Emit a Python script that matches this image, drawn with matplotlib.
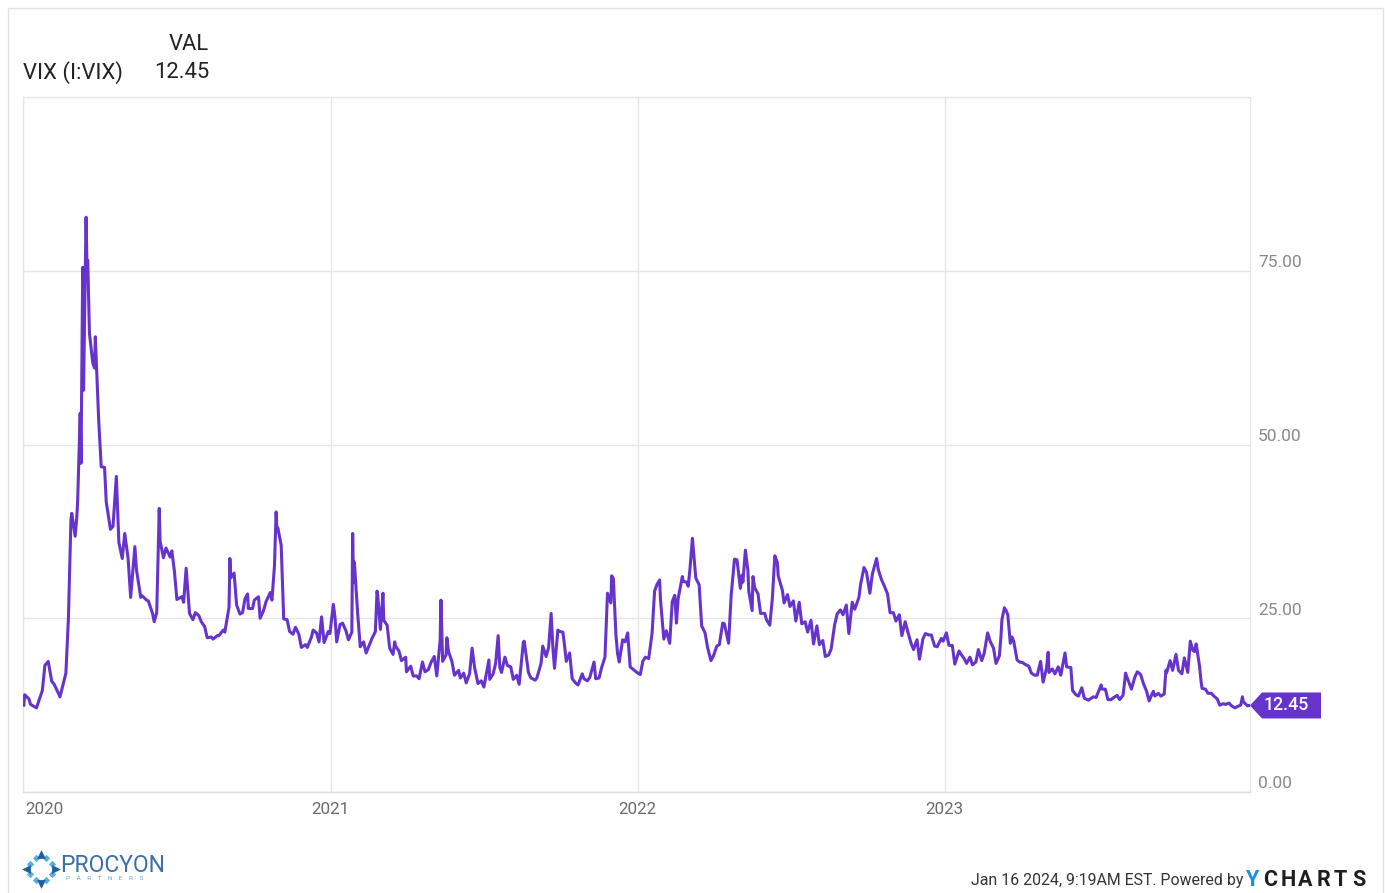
import matplotlib
matplotlib.use('Agg')
import matplotlib.pyplot as plt
import matplotlib.dates as mdates
from matplotlib.patches import Polygon, Rectangle
import numpy as np
import pandas as pd

plt.rcParams['font.family'] = ['Roboto', 'DejaVu Sans']

# ---------------- data ----------------
days_2020 = ["01-02","01-03","01-08","01-10","01-17","01-24","01-27","01-31","02-04","02-07","02-14","02-21",
             "02-24","02-27","02-28","03-03","03-05","03-06","03-09","03-10","03-12","03-13","03-16","03-17",
             "03-18","03-20","03-24","03-26","03-27","03-31","04-03","04-07","04-09","04-14","04-17","04-21",
             "04-24","04-28","05-01","05-05","05-08","05-13","05-15","05-20","05-22","05-27","05-29","06-03",
             "06-05","06-08","06-11","06-12","06-16","06-19","06-24","06-26","06-29","07-02","07-08","07-10",
             "07-13","07-17","07-21","07-24","07-28","07-31","08-04","08-07","08-12","08-14","08-19","08-21",
             "08-26","08-28","09-02","09-03","09-04","09-08","09-11","09-15","09-18","09-21","09-24","09-25",
             "09-30","10-02","10-07","10-09","10-13","10-16","10-21","10-23","10-26","10-28","10-29","10-30",
             "11-03","11-06","11-10","11-13","11-17","11-20","11-24","11-27","12-02","12-04","12-09","12-11",
             "12-15","12-18","12-21","12-24","12-29","12-31"]
vix_2020 = [12.5,14.0,13.4,12.6,12.1,14.6,18.2,18.8,16.0,15.5,13.7,17.1,
            25.0,39.2,40.1,36.8,39.6,41.9,54.5,47.3,75.5,57.8,82.7,75.9,
            76.5,66.0,61.7,61.0,65.5,53.5,46.8,46.7,41.7,37.8,38.2,45.4,
            35.9,33.6,37.2,33.6,28.0,35.3,31.9,28.0,28.2,27.6,27.5,25.7,
            24.5,25.8,40.8,36.1,33.7,35.1,33.8,34.7,31.8,27.7,28.1,27.3,
            32.2,25.7,24.8,25.8,25.4,24.5,23.8,22.2,22.3,22.0,22.5,22.5,
            23.3,23.0,26.6,33.6,30.8,31.5,26.9,25.6,25.8,27.8,28.5,26.4,
            26.4,27.6,28.1,25.0,26.1,27.4,28.7,27.6,32.5,40.3,37.6,38.0,
            35.5,24.9,24.8,23.1,22.7,23.7,22.7,20.8,21.2,20.8,22.3,23.3,
            22.9,21.6,25.2,21.5,23.1,22.8]

days_2021 = ["01-04","01-06","01-08","01-12","01-15","01-19","01-22","01-26","01-27","01-28","01-29","02-02",
             "02-05","02-09","02-12","02-17","02-19","02-23","02-25","02-26","03-01","03-04","03-05","03-09",
             "03-12","03-16","03-18","03-19","03-23","03-26","03-31","04-01","04-06","04-09","04-13","04-16",
             "04-20","04-23","04-27","04-30","05-04","05-07","05-11","05-12","05-13","05-14","05-18","05-19",
             "05-21","05-25","05-28","06-02","06-04","06-08","06-11","06-15","06-18","06-21","06-25","06-29",
             "07-02","07-08","07-09","07-13","07-16","07-19","07-21","07-23","07-27","07-30","08-03","08-06",
             "08-10","08-13","08-18","08-19","08-24","08-27","09-01","09-03","09-08","09-10","09-14","09-17",
             "09-20","09-22","09-24","09-28","09-30","10-04","10-06","10-08","10-12","10-15","10-19","10-22",
             "10-27","10-29","11-02","11-05","11-10","11-12","11-16","11-19","11-23","11-26","11-30","12-01",
             "12-03","12-06","12-08","12-10","12-14","12-17","12-20","12-23","12-28","12-31"]
vix_2021 = [27.0,25.1,21.6,24.1,24.3,23.2,21.9,23.0,37.2,30.2,33.1,25.6,
            20.9,21.6,20.0,21.5,22.1,23.1,28.9,28.0,23.4,28.6,24.7,24.0,
            20.7,19.8,21.6,21.0,20.3,18.9,19.4,17.3,18.1,16.7,16.7,16.3,
            18.7,17.3,17.6,18.6,19.5,16.7,21.8,27.6,23.1,18.8,19.7,22.2,
            20.2,18.8,16.8,17.5,16.4,17.1,15.7,17.0,20.7,17.9,15.6,16.0,
            15.1,19.0,16.2,17.0,18.5,22.5,17.9,17.2,19.4,18.2,18.0,16.2,
            16.8,15.5,21.6,21.7,17.2,16.4,16.1,16.4,18.5,21.0,19.5,20.8,
            25.7,20.9,17.8,23.3,23.1,23.0,21.0,18.8,20.0,16.3,15.7,15.4,
            17.0,16.3,16.0,16.5,18.7,16.3,16.4,17.9,19.4,28.6,27.2,31.1,
            30.7,22.7,19.9,18.7,21.9,21.6,22.9,18.0,17.5,17.2]

days_2022 = ["01-04","01-07","01-10","01-14","01-18","01-21","01-24","01-27","01-28","02-01","02-04","02-08",
             "02-11","02-14","02-16","02-18","02-23","02-24","02-28","03-02","03-04","03-07","03-08","03-11",
             "03-15","03-18","03-22","03-25","03-29","04-01","04-05","04-08","04-12","04-14","04-19","04-22",
             "04-26","04-29","05-03","05-05","05-06","05-09","05-12","05-13","05-17","05-18","05-20","05-24",
             "05-27","06-01","06-03","06-07","06-10","06-13","06-16","06-17","06-22","06-24","06-28","07-01",
             "07-05","07-08","07-12","07-15","07-19","07-22","07-26","07-29","08-02","08-05","08-09","08-12",
             "08-16","08-19","08-23","08-26","08-30","09-02","09-06","09-09","09-13","09-16","09-21","09-23",
             "09-27","09-30","10-04","10-07","10-12","10-14","10-18","10-21","10-25","10-28","11-01","11-04",
             "11-08","11-10","11-11","11-15","11-18","11-22","11-25","11-29","12-02","12-06","12-09","12-13",
             "12-16","12-20","12-23","12-28","12-30"]
vix_2022 = [16.9,18.8,19.4,19.2,22.8,28.9,29.9,30.5,27.7,22.0,23.2,21.4,
            27.4,28.3,24.3,27.8,31.0,30.3,30.2,29.6,32.0,36.5,35.1,30.8,
            29.8,23.9,22.9,20.8,18.9,19.6,21.0,21.2,24.3,24.2,21.4,28.2,
            33.5,33.4,29.3,31.2,30.2,34.8,31.8,28.9,26.1,31.0,29.4,28.5,
            25.7,25.7,24.8,24.0,27.8,34.0,33.0,31.1,29.0,27.2,28.4,26.7,
            27.5,24.6,27.3,24.2,24.5,23.0,24.7,21.3,23.9,21.2,21.8,19.5,
            19.7,20.6,24.0,25.6,26.2,25.5,26.9,22.8,27.3,26.3,28.0,29.9,
            32.3,31.6,28.6,31.4,33.6,32.0,30.5,29.7,28.5,25.8,25.8,24.6,
            25.5,23.5,22.5,24.5,23.1,21.4,20.5,21.9,19.1,22.0,22.8,22.6,
            22.6,21.0,20.9,22.1,21.7]

days_2023 = ["01-03","01-06","01-10","01-13","01-18","01-20","01-24","01-27","01-31","02-03","02-07","02-10",
             "02-14","02-17","02-21","02-24","02-28","03-03","03-07","03-09","03-10","03-13","03-15","03-17",
             "03-20","03-22","03-24","03-28","03-31","04-04","04-06","04-11","04-14","04-18","04-21","04-25",
             "04-28","05-02","05-04","05-05","05-09","05-12","05-16","05-19","05-24","05-26","05-31","06-02",
             "06-06","06-09","06-13","06-16","06-21","06-23","06-27","06-30","07-06","07-07","07-11","07-14",
             "07-18","07-21","07-25","07-28","08-01","08-03","08-04","08-08","08-11","08-15","08-18","08-22",
             "08-25","08-29","09-01","09-06","09-08","09-12","09-15","09-19","09-21","09-22","09-26","09-29",
             "10-03","10-06","10-10","10-13","10-17","10-20","10-23","10-25","10-27","10-31","11-02","11-03",
             "11-07","11-10","11-14","11-17","11-21","11-24","11-28","12-01","12-05","12-08","12-12","12-15",
             "12-19","12-21","12-22","12-27","12-29"]
vix_2023 = [22.9,21.1,21.1,18.4,20.3,19.9,19.2,18.5,19.4,18.3,18.7,20.5,
            18.9,20.0,22.9,21.7,20.7,18.5,19.6,22.6,24.8,26.5,26.1,25.5,
            21.4,22.3,21.7,19.0,18.7,18.6,18.4,18.1,17.1,16.8,16.8,18.8,
            15.8,17.8,20.1,17.2,17.7,17.0,18.0,16.8,20.0,18.0,17.9,14.6,
            14.0,13.8,15.0,13.5,13.2,13.4,13.7,13.6,15.4,14.8,14.8,13.3,
            13.3,13.6,13.9,13.3,13.9,15.9,17.1,15.8,14.8,16.5,17.3,16.9,
            15.7,14.5,13.1,14.5,13.8,14.2,13.8,14.1,17.5,17.2,18.9,17.5,
            19.8,17.5,17.0,19.3,17.2,21.7,20.4,20.2,21.3,18.1,15.7,14.9,
            14.8,14.2,14.2,13.8,13.4,12.5,12.7,12.6,12.8,12.4,12.1,12.3,
            12.5,13.7,13.0,12.4,12.45]

dates = pd.to_datetime(["2020-" + d for d in days_2020] + ["2021-" + d for d in days_2021] +
                       ["2022-" + d for d in days_2022] + ["2023-" + d for d in days_2023])
vix = np.array(vix_2020 + vix_2021 + vix_2022 + vix_2023)

series_name = "VIX (I:VIX)"
column_name = "VAL"
last_value = 12.45
y_ticks = [0, 25, 50, 75]
year_ticks = ["2020", "2021", "2022", "2023"]
footer_text = "Jan 16 2024, 9:19AM EST. Powered by"

# ---------------- figure ----------------
W, H = 1385, 893
fig = plt.figure(figsize=(W / 100, H / 100), dpi=100)
fig.patch.set_facecolor('white')

def fx(x):
    return x / W

def fy(y):
    return 1 - y / H

# outer frame
fig.patches.append(Rectangle((fx(8), fy(905)), fx(1383) - fx(8), fy(8) - fy(905),
                             transform=fig.transFigure, fill=False, edgecolor='#e3e3e3', lw=1))

ax = fig.add_axes([fx(23), fy(792), fx(1250) - fx(23), fy(97) - fy(792)])
purple = '#6633cc'
grid_c = '#e6e6e6'

ax.plot(dates, vix, color=purple, lw=2.2, solid_joinstyle='round', zorder=3)

ax.set_xlim(pd.Timestamp('2020-01-01'), pd.Timestamp('2023-12-30'))
ax.set_ylim(0, 100)

for s in ax.spines.values():
    s.set_color(grid_c)
    s.set_linewidth(1)
ax.spines['bottom'].set_color('#dcdcdc')

ax.set_yticks(y_ticks)
ax.set_xticks([pd.Timestamp(y + '-01-01') for y in year_ticks])
ax.tick_params(length=0, labelleft=False, labelbottom=False)
ax.grid(True, color=grid_c, lw=1)
ax.set_axisbelow(True)

# y tick labels (right side, sitting above gridlines)
for v in y_ticks:
    ax.annotate(f"{v:.2f}", xy=(1, v), xycoords=('axes fraction', 'data'),
                xytext=(8, 8), textcoords='offset pixels', ha='left', va='center',
                fontsize=12.5, color='#8a8a8a')

# x tick labels
for i, y in enumerate(year_ticks):
    t = pd.Timestamp(y + '-01-01')
    ax.annotate(y, xy=(t, 0), xycoords=('data', 'axes fraction'),
                xytext=(2 if i == 0 else 0, -17), textcoords='offset pixels',
                ha='left' if i == 0 else 'center', va='center', fontsize=12.2, color='#6a6a6a')

# last-value tag
fig.canvas.draw()
xr = mdates.date2num(pd.Timestamp('2023-12-30'))
_, yd = ax.transData.transform((xr, last_value))
xd = ax.transAxes.transform((1, 0))[0]
inv = fig.transFigure.inverted()
pts_px = [(xd, yd), (xd + 12, yd + 13), (xd + 71, yd + 13), (xd + 71, yd - 13), (xd + 12, yd - 13)]
pts = [inv.transform(p) for p in pts_px]
fig.patches.append(Polygon(pts, closed=True, transform=fig.transFigure, facecolor=purple,
                           edgecolor='none', zorder=5))
tx, ty = inv.transform((xd + 14, yd))
fig.text(tx, ty, f"{last_value:.2f}", color='white', fontsize=12.8, fontweight='medium',
         ha='left', va='center', zorder=6)

# header
fig.text(fx(209), fy(45), column_name, ha='right', va='center', fontsize=15.8, color='#222222')
fig.text(fx(23), fy(73), series_name, ha='left', va='center', fontsize=15.8, color='#222222')
fig.text(fx(209), fy(73), f"{last_value:.2f}", ha='right', va='center', fontsize=15.8, color='#222222')

# footer
fig.text(fx(1243), fy(881), footer_text, ha='right', va='center', fontsize=11.4, color='#333333')
brand = "YCHARTS"
for i, ch in enumerate(brand):
    fig.text(fx(1245 + i * 17.8), fy(880), ch, ha='left', va='center', fontsize=15.5,
             fontweight='bold', color='#1a8fe3' if i == 0 else '#1e1e1e')

# Procyon logo (approximation drawn with markers)
lax = fig.add_axes([fx(22), fy(888), fx(60) - fx(22), fy(850) - fy(888)])
lax.set_xlim(-1, 1)
lax.set_ylim(-1, 1)
lax.axis('off')
ring = np.linspace(0, 2 * np.pi, 9)[:-1] + np.pi / 8
lax.scatter(0.62 * np.cos(ring), 0.62 * np.sin(ring), marker='D', s=14, color='#5aaedc', lw=0)
for a, m in zip([0, np.pi / 2, np.pi, 3 * np.pi / 2], ['>', '^', '<', 'v']):
    lax.scatter([0.8 * np.cos(a)], [0.8 * np.sin(a)], marker=m, s=40, color='#1f5f9e', lw=0)
fig.text(fx(60), fy(866), "PROCYON", ha='left', va='center', fontsize=16.5, color='#3b6fa6',
         fontweight='normal')
fig.text(fx(66), fy(879), "P    A    R    T    N    E    R    S", ha='left', va='center', fontsize=4.6,
         color='#59b0dc')

fig.savefig('out.png', dpi=100, facecolor='white')
